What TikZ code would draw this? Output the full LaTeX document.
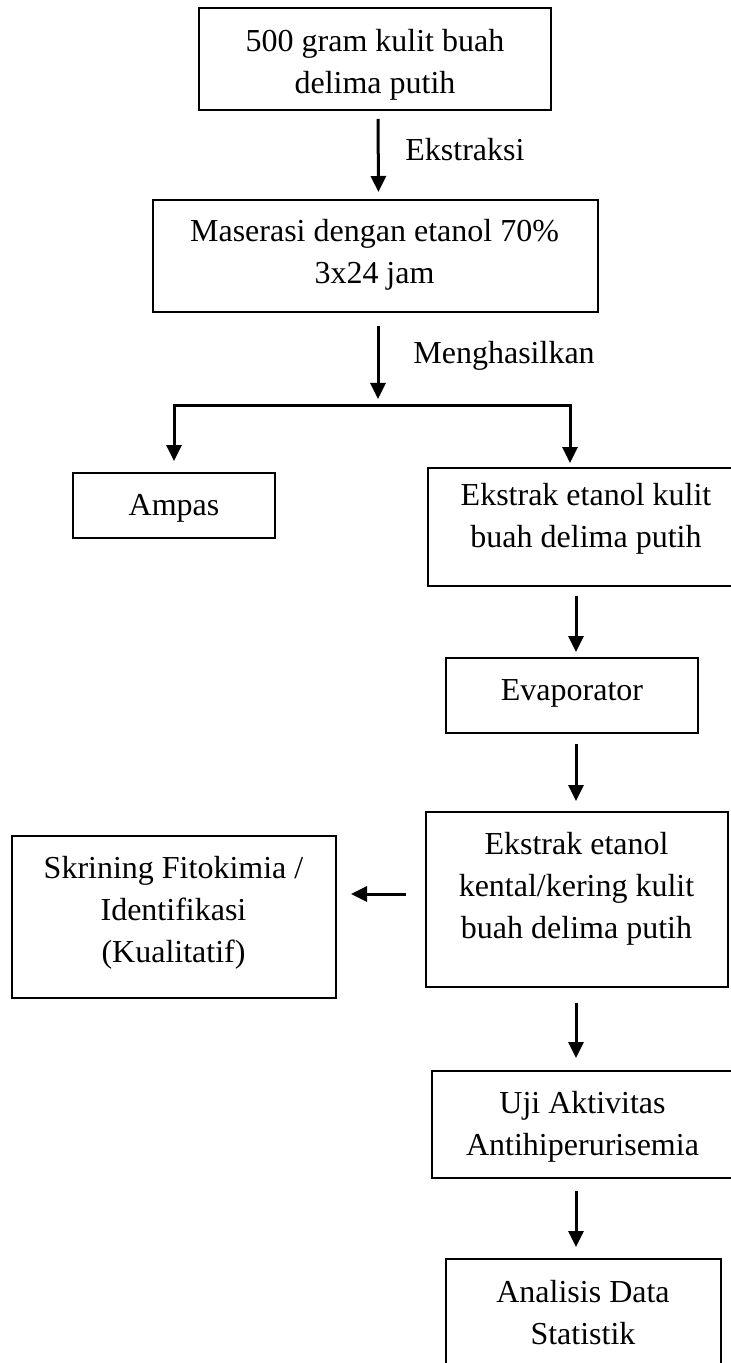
\documentclass[tikz,border=0pt]{standalone}
\usepackage{fontspec}
\setmainfont{Liberation Serif}
\usetikzlibrary{arrows.meta}

\begin{document}
\begin{tikzpicture}[x=0.5pt,y=-0.5pt,
  kotak/.style={draw,line width=1pt,inner sep=0pt},
  teks/.style={align=center,inner sep=0pt,font=\fontsize{16}{21}\selectfont},
  panah/.style={-{Triangle[length=8pt,width=7.5pt]},line width=1.5pt}]
\clip (0,0) rectangle (731,1363);
% kotak
\node[kotak,minimum width=176pt,minimum height=51pt] (b1) at (375,59) {};
\node[kotak,minimum width=222.5pt,minimum height=56pt] (b2) at (375.5,256) {};
\node[kotak,minimum width=101pt,minimum height=32.5pt] (ampas) at (174,505.5) {};
\node[kotak,minimum width=157pt,minimum height=59pt] (ekstrak) at (585,527) {};
\node[kotak,minimum width=126pt,minimum height=37.5pt] (evap) at (572,695.5) {};
\node[kotak,minimum width=151pt,minimum height=87.5pt] (kental) at (577,899.5) {};
\node[kotak,minimum width=162pt,minimum height=81pt] (skrining) at (174,917) {};
\node[kotak,minimum width=151pt,minimum height=53.5pt] (uji) at (583,1124.5) {};
\node[kotak,minimum width=137.5pt,minimum height=55.5pt] (analisis) at (583.5,1314.5) {};
% teks
\node[teks] (b1-t) at (375,65) {500 gram kulit buah\\delima putih};
\node[teks] (b2-t) at (374.5,255) {Maserasi dengan etanol 70\%\\3x24 jam};
\node[teks] (ampas-t) at (174,508) {Ampas};
\node[teks] (ekstrak-t) at (586,519) {Ekstrak etanol kulit\\buah delima putih};
\node[teks] (evap-t) at (572,693) {Evaporator};
\node[teks] (kental-t) at (576.5,889) {Ekstrak etanol\\kental/kering kulit\\buah delima putih};
\node[teks] (skrining-t) at (173.5,913) {Skrining Fitokimia /\\Identifikasi\\(Kualitatif)};
\node[teks] (uji-t) at (582.5,1127) {Uji Aktivitas\\Antihiperurisemia};
\node[teks] (analisis-t) at (583,1313) {Analisis Data\\Statistik};
\node[teks,anchor=west] (ekstraksi) at (405,150) {Ekstraksi};
\node[teks,anchor=west] (hasil) at (413,356) {Menghasilkan};
% titik bantu
\coordinate (pisah) at (378,406); \coordinate (kiri) at (174,406); \coordinate (kanan) at (570,406);
\coordinate (kol) at (576,0); \coordinate (h) at (0,894);
% panah
\draw[panah,shorten <=4pt,shorten >=3.5pt] ([xshift=1.5pt]b1.south) -- ([xshift=1.5pt]b2.north);
\draw[panah,shorten <=6.5pt,shorten >=3.5pt] (b2.south -| pisah) -- (pisah);
\draw[panah,line cap=rect,shorten >=5.5pt] (kanan) -- (kiri) -- (ampas.north);
\draw[panah,shorten >=2pt] (kanan) -- (kanan |- ekstrak.north);
\draw[panah,shorten <=4.5pt,shorten >=2.5pt] (ekstrak.south -| kol) -- (evap.north -| kol);
\draw[panah,shorten <=5pt,shorten >=5pt] (evap.south -| kol) -- (kental.north -| kol);
\draw[panah,shorten <=9.5pt,shorten >=7pt] (kental.west |- h) -- (skrining.east |- h);
\draw[panah,shorten <=7.5pt,shorten >=6pt] (kental.south -| kol) -- (uji.north -| kol);
\draw[panah,shorten <=6pt,shorten >=5.5pt] (uji.south -| kol) -- (analisis.north -| kol);
\end{tikzpicture}
\end{document}
